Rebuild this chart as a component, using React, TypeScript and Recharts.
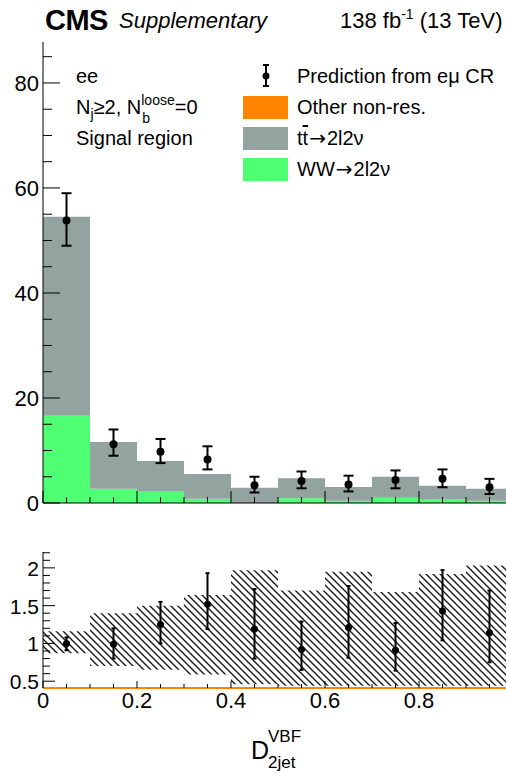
import { ComposedChart, Area, Scatter, ErrorBar, XAxis, YAxis } from 'recharts'

// bins of D_2jet^VBF
const binEdges = [0, 0.1, 0.2, 0.3, 0.4, 0.5, 0.6, 0.7, 0.8, 0.9, 1.0]
const binCenters = [0.05, 0.15, 0.25, 0.35, 0.45, 0.55, 0.65, 0.75, 0.85, 0.95]

// stacked MC (events)
const wwVals = [16.6, 2.7, 2.2, 0.8, -0.3, 0.9, 0.45, 1.0, 0.77, 0.45]
const ttVals = [37.9, 8.9, 5.8, 4.7, 3.2, 3.8, 2.6, 4.0, 2.5, 2.25]
const otherVals = [0, 0, 0, 0, 0, 0, 0, 0, 0, 0]

// prediction from e-mu control region
const predVals = [53.8, 11.2, 9.75, 8.3, 3.4, 4.2, 3.5, 4.4, 4.6, 3.0]
const predLo = [49.0, 9.0, 7.6, 6.4, 2.0, 2.8, 2.2, 2.8, 3.0, 1.7]
const predHi = [59.0, 14.0, 12.2, 10.8, 5.0, 6.0, 5.2, 6.2, 6.4, 4.6]

// ratio panel
const ratioVals = [1.0, 0.99, 1.25, 1.52, 1.19, 0.92, 1.21, 0.91, 1.43, 1.14]
const ratioLo = [0.91, 0.8, 1.0, 1.19, 0.8, 0.65, 0.81, 0.64, 1.04, 0.75]
const ratioHi = [1.08, 1.2, 1.55, 1.93, 1.72, 1.29, 1.76, 1.27, 1.97, 1.7]
const bandLo = [0.87, 0.7, 0.65, 0.59, 0.46, 0.44, 0.44, 0.44, 0.44, 0.44]
const bandHi = [1.16, 1.4, 1.5, 1.64, 1.97, 1.7, 1.95, 1.68, 1.92, 2.03]

// ticks
const xTicks = [0, 0.05, 0.1, 0.15, 0.2, 0.25, 0.3, 0.35, 0.4, 0.45, 0.5, 0.55, 0.6, 0.65, 0.7, 0.75, 0.8, 0.85, 0.9, 0.95, 1.0]
const xLabels = ['0', '0.2', '0.4', '0.6', '0.8']
const yTicks = [0, 5, 10, 15, 20, 25, 30, 35, 40, 45, 50, 55, 60, 65, 70, 75, 80, 85]
const yLabels = ['0', '20', '40', '60', '80']
const rTicks = [0.5, 0.6, 0.7, 0.8, 0.9, 1.0, 1.1, 1.2, 1.3, 1.4, 1.5, 1.6, 1.7, 1.8, 1.9, 2.0, 2.1, 2.2]
const rLabels = ['0.5', '1', '1.5', '2']

const GREEN = '#4fff74'
const GRAY = '#93a4a0'
const ORANGE = '#ff8500'
const FONT = '"Liberation Sans", Arial, Helvetica, sans-serif'

const last = binCenters.length - 1
const histData = binEdges.map((x, i) => {
  const j = Math.min(i, last)
  return { x, ww: wwVals[j], tt: ttVals[j], other: otherVals[j] }
})
const bandData = binEdges.map((x, i) => {
  const j = Math.min(i, last)
  return { x, band: [bandLo[j], bandHi[j]] }
})
const predData = binCenters.map((x, i) => ({
  x, y: predVals[i], err: [predVals[i] - predLo[i], predHi[i] - predVals[i]],
}))
const ratioData = binCenters.map((x, i) => ({
  x, y: ratioVals[i], err: [ratioVals[i] - ratioLo[i], ratioHi[i] - ratioVals[i]],
}))

const fmt = (v: number) => String(Math.round(v * 100) / 100)

function XTick(props: any) {
  const { x, y, payload, side, major, minor, labels } = props
  const v = payload.value
  const isMajor = Math.abs(v / 0.2 - Math.round(v / 0.2)) < 1e-6
  const len = isMajor ? major : minor
  const s = side === 'top' ? 1 : -1
  const lbl = fmt(v)
  return (
    <g>
      <line x1={x} x2={x} y1={y} y2={y + s * len} stroke="#000" strokeWidth={1} />
      {labels && isMajor && xLabels.includes(lbl) && (
        <text x={x} y={y + 20} textAnchor="middle" fontSize={22} fontFamily={FONT} fill="#000">{lbl}</text>
      )}
    </g>
  )
}

function YTick(props: any) {
  const { x, y, payload, side, major, minor, labels, list, step, fontSize } = props
  const v = payload.value
  const isMajor = Math.abs(v / step - Math.round(v / step)) < 1e-6
  const len = isMajor ? major : minor
  const s = side === 'left' ? 1 : -1
  const lbl = fmt(v)
  return (
    <g>
      <line x1={x} x2={x + s * len} y1={y} y2={y} stroke="#000" strokeWidth={1} />
      {labels && list.includes(lbl) && (
        <text x={x - 4} y={y + 8} textAnchor="end" fontSize={fontSize} fontFamily={FONT} fill="#000">{lbl}</text>
      )}
    </g>
  )
}

const Dot = (r: number) => (p: any) => <circle cx={p.cx} cy={p.cy} r={r} fill="#000" />

function MainPanel() {
  return (
    <ComposedChart
      width={520} height={520} data={histData}
      margin={{ top: 42, right: 7, bottom: 0, left: 0 }}
    >
      <XAxis dataKey="x" type="number" domain={[0, 1]} ticks={xTicks} interval={0}
        height={17} tickSize={0} tickMargin={0} axisLine={{ stroke: '#000' }} tickLine={false}
        tick={(p: any) => <XTick {...p} side="bottom" major={12} minor={6} />} />
      <XAxis xAxisId="top" orientation="top" dataKey="x" type="number" domain={[0, 1]} ticks={xTicks} interval={0}
        height={0} tickSize={0} tickMargin={0} axisLine={{ stroke: '#000' }} tickLine={false}
        tick={(p: any) => <XTick {...p} side="top" major={12} minor={6} />} />
      <YAxis type="number" domain={[0, 87.8]} allowDataOverflow ticks={yTicks} interval={0}
        width={43} tickSize={0} tickMargin={0} axisLine={{ stroke: '#000' }} tickLine={false}
        tick={(p: any) => <YTick {...p} side="left" major={17} minor={9} labels list={yLabels} step={20} fontSize={22} />} />
      <YAxis yAxisId="right" orientation="right" type="number" domain={[0, 87.8]} ticks={yTicks} interval={0}
        width={0} tickSize={0} tickMargin={0} axisLine={{ stroke: '#000' }} tickLine={false}
        tick={(p: any) => <YTick {...p} side="right" major={17} minor={9} step={20} />} />
      <Area dataKey="ww" type="stepAfter" stackId="mc" stroke="none" fill={GREEN} fillOpacity={1} isAnimationActive={false} dot={false} activeDot={false} />
      <Area dataKey="tt" type="stepAfter" stackId="mc" stroke="none" fill={GRAY} fillOpacity={1} isAnimationActive={false} dot={false} activeDot={false} />
      <Area dataKey="other" type="stepAfter" stackId="mc" stroke="none" fill={ORANGE} fillOpacity={1} isAnimationActive={false} dot={false} activeDot={false} />
      <Scatter data={predData} dataKey="y" fill="#000" shape={Dot(4)} isAnimationActive={false}>
        <ErrorBar dataKey="err" direction="y" width={5} stroke="#000" strokeWidth={2} />
      </Scatter>
    </ComposedChart>
  )
}

function RatioPanel() {
  return (
    <ComposedChart
      width={520} height={238} data={bandData}
      margin={{ top: 12, right: 7, bottom: 0, left: 0 }}
    >
      <defs>
        <pattern id="hatch" patternUnits="userSpaceOnUse" width={7} height={7}>
          <path d="M0,0 L7,7 M-1,6 L1,8 M6,-1 L8,1" stroke="#1a1a1a" strokeWidth={1.4} />
        </pattern>
      </defs>
      <XAxis dataKey="x" type="number" domain={[0, 1]} ticks={xTicks} interval={0}
        height={90} tickSize={0} tickMargin={0} axisLine={{ stroke: ORANGE, strokeWidth: 2 }} tickLine={false}
        tick={(p: any) => <XTick {...p} side="bottom" major={7} minor={4} labels />} />
      <XAxis xAxisId="top" orientation="top" dataKey="x" type="number" domain={[0, 1]} ticks={xTicks} interval={0}
        height={0} tickSize={0} tickMargin={0} axisLine={{ stroke: '#000' }} tickLine={false}
        tick={(p: any) => <XTick {...p} side="top" major={7} minor={4} />} />
      <YAxis type="number" domain={[0.41, 2.21]} allowDataOverflow ticks={rTicks} interval={0}
        width={43} tickSize={0} tickMargin={0} axisLine={{ stroke: '#000' }} tickLine={false}
        tick={(p: any) => <YTick {...p} side="left" major={12} minor={7} labels list={rLabels} step={0.5} fontSize={21} />} />
      <YAxis yAxisId="right" orientation="right" type="number" domain={[0.41, 2.21]} ticks={rTicks} interval={0}
        width={0} tickSize={0} tickMargin={0} axisLine={{ stroke: '#000' }} tickLine={false}
        tick={(p: any) => <YTick {...p} side="right" major={12} minor={7} step={0.5} />} />
      <Area dataKey="band" type="stepAfter" stroke="none" fill="url(#hatch)" fillOpacity={1} isAnimationActive={false} dot={false} activeDot={false} />
      <Scatter data={ratioData} dataKey="y" fill="#000" shape={Dot(3.5)} isAnimationActive={false}>
        <ErrorBar dataKey="err" direction="y" width={2} stroke="#000" strokeWidth={2} />
      </Scatter>
    </ComposedChart>
  )
}

const abs = (left: number, top: number, extra: any = {}) => ({
  position: 'absolute' as const, left, top, whiteSpace: 'nowrap' as const, fontFamily: FONT, color: '#000', ...extra,
})

function LegendBox({ top, color }: { top: number; color: string }) {
  return <div style={{ position: 'absolute', left: 243, top, width: 45, height: 23, background: color }} />
}

const Arrow = () => (
  <span style={{ fontFamily: '"DejaVu Sans", sans-serif', fontSize: 20, margin: '0 1px' }}>→</span>
)

export default function App() {
  return (
    <div style={{ position: 'fixed', left: 0, top: 0, width: 506, height: 778, overflow: 'hidden', background: '#fff' }}>
      <style>{'html,body{margin:0;padding:0;overflow:hidden;}'}</style>
      <div style={{ position: 'absolute', left: 0, top: 0 }}>
        <MainPanel />
      </div>
      <div style={{ position: 'absolute', left: 0, top: 540 }}>
        <RatioPanel />
      </div>

      {/* header */}
      <div style={abs(45, 3, { fontSize: 29, fontWeight: 'bold', lineHeight: '34px', letterSpacing: -0.5 })}>CMS</div>
      <div style={abs(119, 7, { fontSize: 22, fontStyle: 'italic', lineHeight: '28px' })}>Supplementary</div>
      <div style={abs(340, 7, { fontSize: 22, lineHeight: '28px' })}>
        138 fb<span style={{ fontSize: 14, position: 'relative', top: -9 }}>-1</span> (13 TeV)
      </div>

      {/* region labels */}
      <div style={abs(76, 64, { fontSize: 20, lineHeight: '24px' })}>ee</div>
      <div style={abs(76, 95, { fontSize: 20, lineHeight: '24px' })}>
        N<span style={{ fontSize: 14, position: 'relative', top: 5 }}>j</span>≥2, N
        <span style={{ position: 'relative', display: 'inline-block', fontSize: 14 }}>
          <span style={{ position: 'relative', top: -9 }}>loose</span>
          <span style={{ position: 'absolute', left: 1, top: 9 }}>b</span>
        </span>=0
      </div>
      <div style={abs(76, 126, { fontSize: 20, lineHeight: '24px' })}>Signal region</div>

      {/* legend */}
      <svg width={20} height={26} style={{ position: 'absolute', left: 256, top: 63 }}>
        <line x1={10} x2={10} y1={2} y2={23} stroke="#000" strokeWidth={2} />
        <line x1={7} x2={13} y1={2} y2={2} stroke="#000" strokeWidth={2} />
        <line x1={7} x2={13} y1={23} y2={23} stroke="#000" strokeWidth={2} />
        <circle cx={10} cy={13} r={3.5} fill="#000" />
      </svg>
      <div style={abs(297, 64, { fontSize: 20, lineHeight: '24px' })}>Prediction from eμ CR</div>
      <LegendBox top={96} color={ORANGE} />
      <div style={abs(297, 95, { fontSize: 20, lineHeight: '24px' })}>Other non-res.</div>
      <LegendBox top={127} color={GRAY} />
      <div style={abs(297, 126, { fontSize: 20, lineHeight: '24px' })}>t<span style={{ textDecoration: 'overline' }}>t</span><Arrow />2l2ν</div>
      <LegendBox top={158} color={GREEN} />
      <div style={abs(297, 157, { fontSize: 20, lineHeight: '24px' })}>WW<Arrow />2l2ν</div>

      {/* x-axis title */}
      <div style={abs(251, 735, { fontSize: 25, lineHeight: '30px' })}>D</div>
      <div style={abs(268, 727, { fontSize: 17, lineHeight: '20px' })}>VBF</div>
      <div style={abs(268, 753, { fontSize: 17, lineHeight: '20px' })}>2jet</div>
    </div>
  )
}
